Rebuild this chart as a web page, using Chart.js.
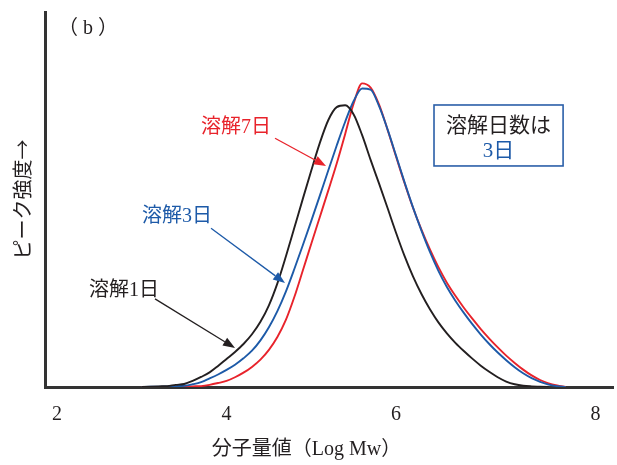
<!DOCTYPE html>
<html>
<head>
<meta charset="utf-8">
<script src="https://cdn.jsdelivr.net/npm/chart.js@4.4.1/dist/chart.umd.min.js"></script>
<style>
  html, body { margin: 0; padding: 0; background: #fff; }
  #wrap { width: 617px; height: 465px; }
</style>
</head>
<body>
<div id="wrap"><canvas id="gpc" width="617" height="465"></canvas></div>
<script>
// Molecular weight axis (Log Mw) shared by the three elution curves
const logMw = [
  3.0, 3.1, 3.2, 3.3, 3.4, 3.5, 3.6, 3.7, 3.8, 3.9,
  4.0, 4.1, 4.2, 4.3, 4.4, 4.5, 4.6, 4.7, 4.8, 4.9,
  5.0, 5.1, 5.2, 5.3, 5.4, 5.5, 5.6, 5.7, 5.8, 5.9,
  6.0, 6.1, 6.2, 6.3, 6.4, 6.5, 6.6, 6.7, 6.8, 6.9,
  7.0, 7.1, 7.2, 7.3, 7.4, 7.5, 7.6, 7.7, 7.8, 7.9, 8.0
];

// Peak intensity (relative) after 1, 3 and 7 days of dissolution
const day1 = [
  0, 0.1, 0.2, 0.3, 0.7, 1.0, 2.0, 3.3, 4.8, 6.9,
  9.2, 11.5, 14.1, 17.3, 21.4, 26.8, 34.0, 42.8, 52.2, 61.7,
  71.0, 80.0, 87.5, 91.8, 92.4, 89.4, 82.6, 74.5, 66.7, 58.7,
  50.6, 43.0, 36.3, 30.5, 25.5, 21.2, 17.6, 14.5, 11.8, 9.3,
  7.0, 5.0, 3.2, 1.8, 0.9, 0.4, 0.2, 0.1, 0
];
const day3 = [
  0, 0.1, 0.1, 0.2, 0.3, 0.4, 0.9, 1.6, 2.8, 4.1,
  5.6, 7.3, 9.4, 11.9, 15.3, 19.6, 24.9, 31.3, 38.7, 46.5,
  54.5, 62.7, 71.0, 79.2, 87.0, 93.8, 97.9, 97.5, 92.1, 84.5,
  75.9, 67.2, 58.9, 51.3, 44.3, 38.1, 32.8, 28.3, 24.3, 20.6,
  17.2, 14.1, 11.3, 8.8, 6.5, 4.5, 2.9, 1.7, 0.8, 0.3, 0
];
const day7 = [
  0, 0, 0, 0, 0.1, 0.1, 0.2, 0.3, 0.7, 1.3,
  2.0, 3.2, 4.7, 6.6, 9.0, 12.2, 16.4, 22.0, 29.5, 38.2,
  47.0, 55.7, 64.4, 73.3, 83.0, 93.0, 99.6, 98.2, 92.6, 84.4,
  75.6, 66.9, 58.8, 51.6, 45.1, 39.3, 34.2, 29.9, 26.0, 22.4,
  19.0, 15.9, 13.0, 10.3, 7.9, 5.7, 3.8, 2.3, 1.2, 0.5, 0
];

const seriesNames = ['溶解1日', '溶解3日', '溶解7日'];
const xTickValues = [2, 4, 6, 8];
const xTickLabels = ['2', '4', '6', '8'];

const BLACK = '#231f20';
const BLUE = '#1d5aa8';
const RED = '#e8232b';
const FONT = '"Liberation Serif", "Noto Sans CJK JP", serif';
const CJK_FONT = '"Noto Sans CJK JP", "Liberation Serif", sans-serif';

const toPoints = (ys) => ys.map((v, i) => ({ x: logMw[i], y: v }));

// Callout labels with arrows, placed in data units (Log Mw, intensity)
const callouts = [
  { text: seriesNames[2], color: RED,   at: [4.112, 84.9], from: [4.572, 81.6], to: [5.174, 72.5] },
  { text: seriesNames[1], color: BLUE,  at: [3.416, 55.7], from: [3.817, 52.1], to: [4.690, 34.1] },
  { text: seriesNames[0], color: BLACK, at: [2.791, 31.5], from: [3.156, 28.9], to: [4.100, 12.8] }
];
const infoBox = { x0: 6.448, x1: 7.971, y0: 72.5, y1: 92.5, line1: '溶解日数は', line2: '3日' };
const panelTag = { text: '（ b ）', at: [2.366, 117.6] };

const annotate = {
  id: 'annotate',
  afterDatasetsDraw(chart) {
    const { ctx, scales: { x, y } } = chart;
    const P = (p) => [x.getPixelForValue(p[0]), y.getPixelForValue(p[1])];
    ctx.save();
    ctx.textAlign = 'center';
    ctx.textBaseline = 'middle';

    // panel tag
    ctx.font = '20px ' + FONT;
    ctx.fillStyle = BLACK;
    const [tx, ty] = P(panelTag.at);
    ctx.fillText(panelTag.text, tx, ty);

    // series callouts
    callouts.forEach(c => {
      const [lx, ly] = P(c.at);
      ctx.fillStyle = c.color;
      ctx.font = '20px ' + FONT;
      ctx.fillText(c.text, lx, ly);

      const [x0, y0] = P(c.from);
      const [x1, y1] = P(c.to);
      const ang = Math.atan2(y1 - y0, x1 - x0);
      const head = 12, half = 4.5;
      const bx = x1 - head * Math.cos(ang), by = y1 - head * Math.sin(ang);
      ctx.strokeStyle = c.color;
      ctx.lineWidth = 1.3;
      ctx.beginPath();
      ctx.moveTo(x0, y0);
      ctx.lineTo(bx, by);
      ctx.stroke();
      ctx.beginPath();
      ctx.moveTo(x1, y1);
      ctx.lineTo(bx + half * Math.sin(ang), by - half * Math.cos(ang));
      ctx.lineTo(bx - half * Math.sin(ang), by + half * Math.cos(ang));
      ctx.closePath();
      ctx.fill();
    });

    // info box
    const [bx0, by0] = P([infoBox.x0, infoBox.y1]);
    const [bx1, by1] = P([infoBox.x1, infoBox.y0]);
    ctx.fillStyle = '#fff';
    ctx.fillRect(bx0, by0, bx1 - bx0, by1 - by0);
    ctx.strokeStyle = '#2b5fa8';
    ctx.lineWidth = 1.6;
    ctx.strokeRect(bx0, by0, bx1 - bx0, by1 - by0);
    const cx = (bx0 + bx1) / 2;
    ctx.font = '21px ' + FONT;
    ctx.fillStyle = BLACK;
    ctx.fillText(infoBox.line1, cx, by0 + 21);
    ctx.fillStyle = BLUE;
    ctx.fillText(infoBox.line2, cx, by0 + 46);
    ctx.restore();
  }
};

const line = (label, data, color, order) => ({
  label, data: toPoints(data), borderColor: color, borderWidth: 1.9,
  pointRadius: 0, fill: false, cubicInterpolationMode: 'monotone', order
});

new Chart(document.getElementById('gpc'), {
  type: 'line',
  data: {
    datasets: [
      line(seriesNames[0], day1, BLACK, 1),
      line(seriesNames[1], day3, BLUE, 2),
      line(seriesNames[2], day7, RED, 3)
    ]
  },
  options: {
    responsive: false,
    animation: false,
    events: [],
    layout: { padding: { top: 12, right: 4, left: 0, bottom: 0 } },
    plugins: {
      legend: { display: false },
      tooltip: { enabled: false },
      title: {
        display: true,
        position: 'bottom',
        text: '分子量値（Log Mw）',
        color: BLACK,
        font: { family: FONT, size: 20, weight: 'normal' },
        padding: { top: 14, bottom: 3 }
      }
    },
    scales: {
      x: {
        type: 'linear',
        min: 1.858,
        max: 8.56,
        afterBuildTicks: (s) => { s.ticks = xTickValues.map(v => ({ value: v })); },
        afterFit: (s) => { s.height = 37; },
        grid: { display: false },
        border: { display: true, color: '#333', width: 3 },
        ticks: {
          color: BLACK,
          padding: 8,
          maxRotation: 0,
          autoSkip: false,
          font: { family: FONT, size: 20 },
          // the last label sits flush toward the end of the axis
          callback: (v) => {
            const t = xTickLabels[xTickValues.indexOf(v)];
            return v === 8 ? '\u2002'.repeat(6) + t : t;
          }
        }
      },
      y: {
        min: 0,
        max: 123,
        afterFit: (s) => { s.width = 45; },
        grid: { display: false },
        border: { display: true, color: '#333', width: 3 },
        ticks: { display: false },
        title: {
          display: true,
          text: 'ピーク強度→',
          color: BLACK,
          font: { family: CJK_FONT, size: 20 },
          padding: { top: 10, bottom: 0 }
        }
      }
    }
  },
  plugins: [annotate]
});
</script>
</body>
</html>
